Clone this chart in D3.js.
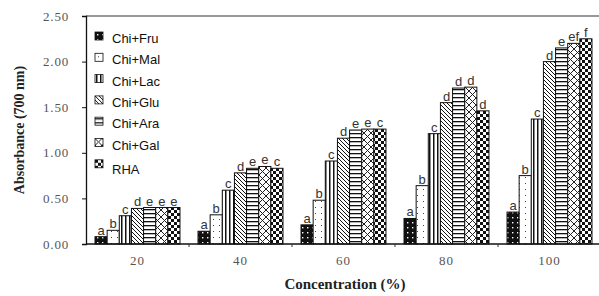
<!DOCTYPE html>
<html>
<head>
<meta charset="utf-8">
<script src="https://cdn.jsdelivr.net/npm/d3@7"></script>
<style>
  body { margin: 0; background: #fff; }
  svg { display: block; }
</style>
</head>
<body>
<div id="chart"></div>
<script>
(function() {
    const W = 599, H = 296;
    const margin = { top: 16, right: -2, bottom: 52, left: 86 };

    // data
    const concentrations = ["20", "40", "60", "80", "100"];
    const series = ["Chi+Fru", "Chi+Mal", "Chi+Lac", "Chi+Glu", "Chi+Ara", "Chi+Gal", "RHA"];
    const fru = [0.08, 0.14, 0.21, 0.28, 0.35];
    const mal = [0.15, 0.32, 0.48, 0.64, 0.75];
    const lac = [0.31, 0.59, 0.91, 1.21, 1.37];
    const glu = [0.39, 0.78, 1.16, 1.55, 2.00];
    const ara = [0.40, 0.83, 1.25, 1.71, 2.15];
    const gal = [0.40, 0.85, 1.26, 1.72, 2.20];
    const rha = [0.40, 0.83, 1.26, 1.46, 2.25];
    const fruLetters = ["a", "a", "a", "a", "a"];
    const malLetters = ["b", "b", "b", "b", "b"];
    const lacLetters = ["c", "c", "c", "c", "c"];
    const gluLetters = ["d", "d", "d", "d", "d"];
    const araLetters = ["e", "e", "e", "d", "e"];
    const galLetters = ["e", "e", "e", "d", "ef"];
    const rhaLetters = ["e", "c", "c", "d", "f"];
    const yTicks = [0, 0.5, 1.0, 1.5, 2.0, 2.5];

    const values = [fru, mal, lac, glu, ara, gal, rha];
    const letters = [fruLetters, malLetters, lacLetters, gluLetters, araLetters, galLetters, rhaLetters];
    const patternIds = ["p-fru", "p-mal", "p-lac", "p-glu", "p-ara", "p-gal", "p-rha"];

    const svg = d3.select("#chart").append("svg")
        .attr("width", W).attr("height", H);

    // fill patterns
    const defs = svg.append("defs");
    const pat = (id, w, h) => defs.append("pattern").attr("id", id)
        .attr("patternUnits", "userSpaceOnUse").attr("width", w).attr("height", h);

    let p = pat("p-fru", 5, 5);
    p.append("rect").attr("width", 5).attr("height", 5).attr("fill", "#111");
    p.append("rect").attr("x", 2).attr("y", 2).attr("width", 1.4).attr("height", 1.4).attr("fill", "#fff");

    p = pat("p-mal", 6, 6);
    p.append("rect").attr("width", 6).attr("height", 6).attr("fill", "#fff");
    p.append("rect").attr("x", 3).attr("y", 3).attr("width", 1).attr("height", 1).attr("fill", "#444");

    p = pat("p-lac", 4, 4);
    p.append("rect").attr("width", 4).attr("height", 4).attr("fill", "#fff");
    p.append("rect").attr("x", 1).attr("width", 1.5).attr("height", 4).attr("fill", "#111");

    p = pat("p-glu", 4, 4);
    p.append("rect").attr("width", 4).attr("height", 4).attr("fill", "#fff");
    p.append("path").attr("d", "M0,0L4,4M-1,3L1,5M3,-1L5,1").attr("stroke", "#111").attr("stroke-width", 1);

    p = pat("p-ara", 4, 4);
    p.append("rect").attr("width", 4).attr("height", 4).attr("fill", "#fff");
    p.append("rect").attr("y", 1).attr("width", 4).attr("height", 1.3).attr("fill", "#111");

    p = pat("p-gal", 7, 7);
    p.append("rect").attr("width", 7).attr("height", 7).attr("fill", "#fff");
    p.append("path").attr("d", "M0,0L7,7M7,0L0,7").attr("stroke", "#222").attr("stroke-width", 1);

    p = pat("p-rha", 6, 6);
    p.append("rect").attr("width", 6).attr("height", 6).attr("fill", "#fff");
    p.append("rect").attr("width", 3).attr("height", 3).attr("fill", "#111");
    p.append("rect").attr("x", 3).attr("y", 3).attr("width", 3).attr("height", 3).attr("fill", "#111");

    const x0 = d3.scaleBand().domain(concentrations)
        .range([margin.left, W - margin.right])
        .paddingInner(0.175).paddingOuter(0.0875);
    const x1 = d3.scaleBand().domain(series).range([0, x0.bandwidth()]);
    const y = d3.scaleLinear().domain([0, 2.5]).range([H - margin.bottom, margin.top]);

    // bars
    series.forEach((s, si) => {
        const g = svg.append("g");
        g.selectAll("rect").data(values[si]).join("rect")
            .attr("x", (d, i) => x0(concentrations[i]) + x1(s))
            .attr("y", d => y(d))
            .attr("width", x1.bandwidth())
            .attr("height", d => y(0) - y(d))
            .attr("fill", `url(#${patternIds[si]})`)
            .attr("stroke", "#111").attr("stroke-width", 1);
        g.selectAll("text").data(values[si]).join("text")
            .attr("x", (d, i) => x0(concentrations[i]) + x1(s) + x1.bandwidth() / 2)
            .attr("y", d => y(d) - 2)
            .attr("text-anchor", "middle")
            .style("font-family", "Liberation Sans, Arial, sans-serif")
            .style("font-size", "13px")
            .attr("fill", "#333")
            .text((d, i) => letters[si][i]);
    });

    // frame
    svg.append("line").attr("x1", margin.left).attr("x2", W)
        .attr("y1", y(2.5)).attr("y2", y(2.5)).attr("stroke", "#333").attr("stroke-width", 1.2);

    // axes
    const yAxis = svg.append("g")
        .attr("transform", `translate(${margin.left},0)`)
        .call(d3.axisLeft(y).tickValues(yTicks).tickFormat(d3.format(".2f")).tickSize(4).tickPadding(13));
    yAxis.select(".domain").attr("stroke", "#111").attr("stroke-width", 1.3);
    yAxis.selectAll(".tick line").attr("stroke", "#111");
    yAxis.selectAll("text")
        .style("font-family", "Liberation Serif, Times New Roman, serif")
        .style("font-size", "13px").style("letter-spacing", "0.8px").attr("fill", "#555");

    const xAxis = svg.append("g")
        .attr("transform", `translate(0,${y(0)})`)
        .call(d3.axisBottom(x0).tickSize(0).tickPadding(12));
    xAxis.select(".domain").attr("d", `M${margin.left},0H${W}`).attr("stroke", "#111").attr("stroke-width", 1.3);
    xAxis.selectAll("text")
        .style("font-family", "Liberation Serif, Times New Roman, serif")
        .style("font-size", "13px").style("letter-spacing", "1px").attr("fill", "#555");
    // small separator ticks between groups
    xAxis.selectAll(".sep").data(concentrations.slice(1)).join("line")
        .attr("class", "sep")
        .attr("x1", d => x0(d) - x0.step() * x0.paddingInner() / 2)
        .attr("x2", d => x0(d) - x0.step() * x0.paddingInner() / 2)
        .attr("y1", 0).attr("y2", 3)
        .attr("stroke", "#333");

    // axis titles
    svg.append("text")
        .attr("transform", `translate(24,${(margin.top + y(0)) / 2}) rotate(-90)`)
        .attr("text-anchor", "middle")
        .style("font-family", "Liberation Serif, Times New Roman, serif")
        .style("font-size", "14px").style("font-weight", "bold")
        .attr("fill", "#222")
        .text("Absorbance (700 nm)");

    svg.append("text")
        .attr("x", 345).attr("y", 289)
        .attr("text-anchor", "middle")
        .style("font-family", "Liberation Serif, Times New Roman, serif")
        .style("font-size", "15px").style("font-weight", "bold")
        .attr("fill", "#222")
        .text("Concentration (%)");

    // legend
    const legend = svg.append("g").attr("transform", "translate(95,32)");
    series.forEach((s, i) => {
        const row = legend.append("g").attr("transform", `translate(0,${i * 21.3})`);
        row.append("rect").attr("width", 8).attr("height", 8)
            .attr("fill", `url(#${patternIds[i]})`).attr("stroke", "#111").attr("stroke-width", 0.8);
        row.append("text").attr("x", 17).attr("y", s === "RHA" ? 14 : 11)
            .style("font-family", "Liberation Sans, Arial, sans-serif")
            .style("font-size", "13px").attr("fill", "#111")
            .text(s);
    });
})();
</script>
</body>
</html>
